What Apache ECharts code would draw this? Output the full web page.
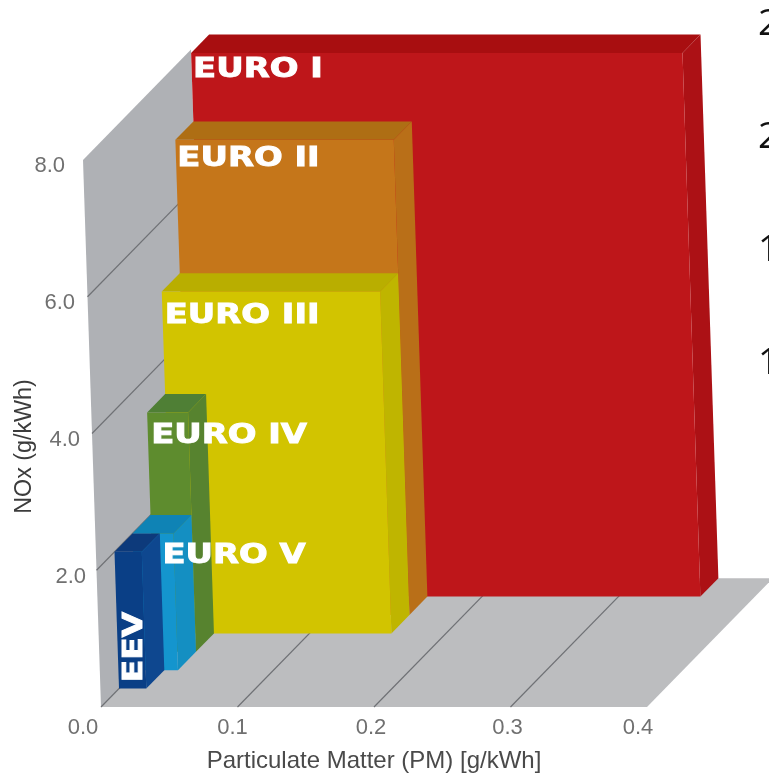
<!DOCTYPE html>
<html><head><meta charset="utf-8">
<style>html,body{margin:0;padding:0;background:#fff;overflow:hidden}#c{width:769px;height:774px}</style>
<script src="https://cdn.jsdelivr.net/npm/echarts@6/dist/echarts.min.js"></script>
</head><body><div id="c"></div>
<script>
// Data
const stages = ['EURO I','EURO II','EURO III','EURO IV','EURO V','EEV'];
const pmValues = [0.36,0.16,0.16,0.03,0.03,0.02];
const noxValues = [7.95,6.95,5.0,3.5,2.0,2.0];
const depthSlots = [6,5,4,3,2,1];
const pmTicks = [0,0.1,0.2,0.3,0.4];
const noxTicks = [2,4,6,8];
const cutoffTexts = ['2','2','1','1'];

// Style and layout
const faceColors = ['#BE161A','#C5761A','#D2C400','#5E8C2E','#1495CE','#0A3F86'];
const topColors  = ['#A80E10','#AE6E14','#B9AE00','#4F7F35','#0F83B5','#0D3A7B'];
const sideColors = ['#AC1115','#B96F18','#BFB500','#57832F','#148FC2','#0E478F'];
const labelOffsets = [[2,17],[2,19],[3,25],[4,24],[30,23],[0,0]];
const labelScale = [1.30,1.30,1.30,1.30,1.30,1];
const DX=18, DY=18.4, SHEAR=2.25, DEPTH_MAX=7, WALL_DEPTH=6;
const xNudge={'0.0':[36,0],'0.1':[10,0],'0.2':[6,0],'0.3':[6,0],'0.4':[18,0]};
const yNudge={'8.0':[21,6],'6.0':[11,6],'4.0':[6,6],'2.0':[0,7]};

function projector(api){
  return (pm,nox,d)=>{const c=api.coord([pm,nox]);return [c[0]-SHEAR*nox+DX*d,c[1]-DY*d];};
}
function poly(points,fill,extra){return Object.assign({type:'polygon',shape:{points},style:{fill}},extra||{});}
function lineEl(a,b){return {type:'line',shape:{x1:a[0],y1:a[1],x2:b[0],y2:b[1]},style:{stroke:'#6f7175',lineWidth:1.2}};}

function renderBackdrop(params,api){
  const P=projector(api), kids=[];
  const top=8, xm=0.4;
  kids.push(poly([P(0,0,0),P(0,top,0),P(0,top,WALL_DEPTH),P(0,0,WALL_DEPTH)],'#AFB1B5'));
  kids.push(poly([P(0,0,0),P(xm,0,0),P(xm,0,DEPTH_MAX),P(0,0,DEPTH_MAX)],'#BCBDBF'));
  pmTicks.slice(1,4).forEach(t=>kids.push(lineEl(P(t,0,0),P(t,0,DEPTH_MAX))));
  [0].concat(noxTicks.slice(0,3)).forEach(t=>kids.push(lineEl(P(0,t,0),P(0,t,WALL_DEPTH))));
  return {type:'group',children:kids};
}
function renderBox(params,api){
  const i=params.dataIndex,P=projector(api);
  const pm=pmValues[i],n=noxValues[i],d=depthSlots[i];
  const fl=P(0,0,d),fr=P(pm,0,d),tl=P(0,n,d),tr=P(pm,n,d),btl=P(0,n,d+1),btr=P(pm,n,d+1),bbr=P(pm,0,d+1);
  const kids=[
    poly([tl,btl,btr,tr],topColors[i]),
    poly([tr,btr,bbr,fr],sideColors[i]),
    poly([fl,tl,tr,fr],faceColors[i])
  ];
  const heavy={stroke:'#fff',lineWidth:0.9};
  if(stages[i]==='EEV'){
    kids.push({type:'text',x:134.5,y:647,rotation:Math.PI/2,scaleX:1.22,
      style:Object.assign({text:stages[i],font:'bold 27px "DejaVu Sans"',fill:'#fff',align:'center',verticalAlign:'middle'},heavy)});
  } else {
    kids.push({type:'text',x:tl[0]+labelOffsets[i][0],y:tl[1]+labelOffsets[i][1],scaleX:labelScale[i],
      style:Object.assign({text:stages[i],font:'bold 26px "DejaVu Sans"',fill:'#fff',align:'left',verticalAlign:'middle'},heavy)});
  }
  return {type:'group',children:kids};
}
const xRich={},yRich={};
Object.keys(xNudge).forEach((k,i)=>{xRich['x'+i]={padding:[xNudge[k][1],xNudge[k][0],0,0]};});
Object.keys(yNudge).forEach((k,i)=>{yRich['y'+i]={padding:[yNudge[k][1]*2,yNudge[k][0],0,0]};});

const chart=echarts.init(document.getElementById('c'),null,{renderer:'canvas'});
chart.setOption({
  animation:false,backgroundColor:'#fff',
  grid:{left:101,top:160,width:546,height:547,containLabel:false,outerBoundsMode:'none'},
  xAxis:{type:'value',min:0,max:0.4,interval:0.1,
    name:'Particulate Matter (PM) [g/kWh]',nameLocation:'middle',nameGap:54,nameMoveOverlap:false,
    nameTextStyle:{color:'#4a4a4a',fontSize:24,fontFamily:'Liberation Sans',verticalAlign:'middle'},
    axisLine:{show:false},axisTick:{show:false},splitLine:{show:false},
    axisLabel:{margin:10,color:'#707070',fontSize:22,fontFamily:'Liberation Sans',rich:xRich,showMinLabel:true,showMaxLabel:true,
      formatter:v=>{const k=v.toFixed(1);return '{x'+Object.keys(xNudge).indexOf(k)+'|'+k+'}';}}},
  yAxis:{type:'value',min:0,max:8,interval:2,
    name:'NOx (g/kWh)',nameLocation:'middle',nameGap:76,nameRotate:90,nameMoveOverlap:false,
    nameTextStyle:{color:'#3c3c3c',fontSize:23.3,fontFamily:'Liberation Sans',verticalAlign:'middle',padding:[0,26,0,0]},
    axisLine:{show:false},axisTick:{show:false},splitLine:{show:false},
    axisLabel:{margin:15,color:'#707070',fontSize:22,fontFamily:'Liberation Sans',rich:yRich,align:'right',
      formatter:v=>{if(v===0)return '';const k=v.toFixed(1);return '{y'+Object.keys(yNudge).indexOf(k)+'|'+k+'}';}}},
  series:[
    {type:'custom',coordinateSystem:'cartesian2d',renderItem:renderBackdrop,data:[[0,0]],silent:true,z:1,clip:false},
    {type:'custom',coordinateSystem:'cartesian2d',renderItem:renderBox,z:2,clip:false,silent:true,
     data:stages.map((s,i)=>[pmValues[i],noxValues[i]])}
  ],
  graphic:cutoffTexts.map((t,i)=>({type:'text',left:758,top:[6,119,232,345][i],
    style:{text:t,font:'37px "Open Sans"',fill:'#111'}}))
});
</script></body></html>
